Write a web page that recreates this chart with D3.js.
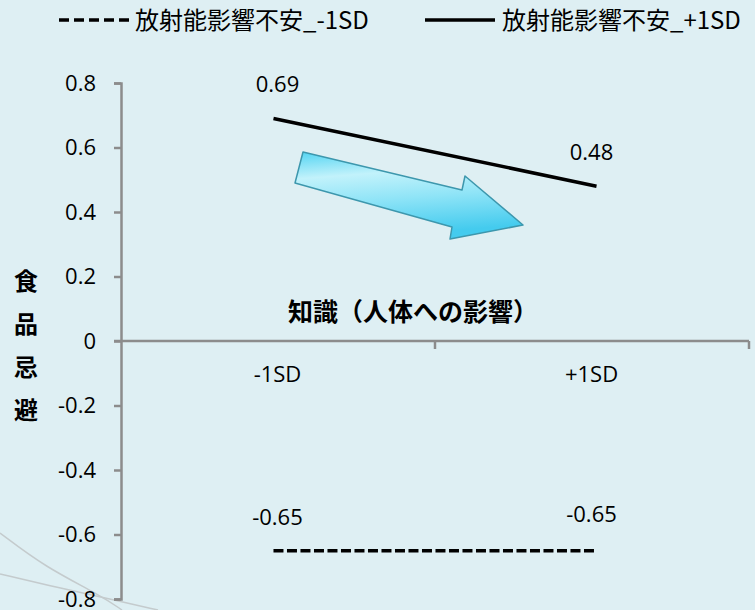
<!DOCTYPE html>
<html>
<head>
<meta charset="utf-8">
<script src="https://cdn.jsdelivr.net/npm/d3@7"></script>
<style>
  body { margin: 0; background: #deeff3; }
  svg { display: block; }
  text { font-family: "Open Sans", "Noto Sans CJK JP", sans-serif; }
  .jp { font-family: "Noto Sans CJK JP", sans-serif; }
</style>
</head>
<body>
<script>
// data
const categories = ["-1SD", "+1SD"]
const seriesNames = ["放射能影響不安_-1SD", "放射能影響不安_+1SD"]
const lowAnxiety = [-0.65, -0.65]
const highAnxiety = [0.69, 0.48]
const yTicks = [-0.8, -0.6, -0.4, -0.2, 0, 0.2, 0.4, 0.6, 0.8]

const width = 755, height = 610
const margin = ({top: 83, right: 6, bottom: 11, left: 121})

const y = d3.scaleLinear()
    .domain([-0.8, 0.8])
    .range([height - margin.bottom, margin.top])

// points sit a little off the band centres, as in the original
const x = d3.scalePoint()
    .domain(categories)
    .range([margin.left, width - margin.right])
    .padding(0.472)

const xSplit = (x(categories[0]) + x(categories[1])) / 2
const fmt = (f, d) => d3.format(f)(d).replace("\u2212", "-")

const svg = d3.select("body").append("svg")
    .attr("width", width)
    .attr("height", height)

// background decoration lines, bottom left
svg.append("g")
    .attr("fill", "none")
    .attr("stroke", "#c4cbcd")
    .attr("stroke-width", 1.5)
    .selectAll("path")
    .data([
      [[0, 533], [45, 567], [100, 595], [122, 610]],
      [[0, 574], [60, 588], [110, 599], [158, 610]]
    ])
    .join("path")
    .attr("d", d3.line().curve(d3.curveBasis))

// y axis
const yAxis = g => g
    .attr("transform", `translate(${margin.left},0)`)
    .call(d3.axisLeft(y).tickValues(yTicks).tickSize(7).tickPadding(18)
      .tickFormat(d => d === 0 ? "0" : fmt(".1f", d)))
    .call(g => g.attr("font-family", null))
    .call(g => g.selectAll("path,line").attr("stroke", "#8c8c8c").attr("stroke-width", 2.5))
    .call(g => g.selectAll("text").attr("font-size", 22).attr("fill", "#000"))

svg.append("g").call(yAxis)

// x axis drawn along y = 0
const xg = svg.append("g")
    .attr("stroke", "#8c8c8c")
    .attr("stroke-width", 2.5)
xg.append("line")
    .attr("x1", margin.left - 7).attr("x2", width - margin.right)
    .attr("y1", y(0)).attr("y2", y(0))
xg.selectAll(".tick")
    .data([xSplit, width - margin.right])
    .join("line")
    .attr("x1", d => d).attr("x2", d => d)
    .attr("y1", y(0)).attr("y2", y(0) + 8)

svg.append("g")
    .attr("font-size", 22)
    .attr("text-anchor", "middle")
    .selectAll("text")
    .data(categories)
    .join("text")
    .attr("x", (d, i) => x(d) + (i === 0 ? 4 : -5))
    .attr("y", y(0) + 41)
    .text(d => d)

// axis titles
svg.append("text")
    .attr("class", "jp")
    .attr("x", 413).attr("y", 321)
    .attr("text-anchor", "middle")
    .attr("font-size", 25)
    .attr("font-weight", "bold")
    .text("知識（人体への影響）")

svg.append("g")
    .attr("font-size", 24)
    .attr("font-weight", "bold")
    .attr("text-anchor", "middle")
    .selectAll("text")
    .data("食品忌避".split(""))
    .join("text")
    .attr("class", "jp")
    .attr("x", 26)
    .attr("y", (d, i) => 290 + i * 43)
    .text(d => d)

// arrow
const defs = svg.append("defs")
const grad = defs.append("linearGradient")
    .attr("id", "arrowFill")
    .attr("x1", "0").attr("y1", "0").attr("x2", "0.2").attr("y2", "1")
grad.append("stop").attr("offset", "0%").attr("stop-color", "#52d4f2")
grad.append("stop").attr("offset", "30%").attr("stop-color", "#c2f2fb")
grad.append("stop").attr("offset", "60%").attr("stop-color", "#8fe4f7")
grad.append("stop").attr("offset", "100%").attr("stop-color", "#44cbee")

svg.append("path")
    .attr("d", "M303,152 L462,190 L465,176 L523,225 L450,239 L452,227 L295,183 Z")
    .attr("fill", "url(#arrowFill)")
    .attr("stroke", "#3d97ad")
    .attr("stroke-width", 1.5)
    .attr("stroke-linejoin", "round")

// lines
const line = d3.line()
    .x((d, i) => x(categories[i]))
    .y(d => y(d))

svg.append("path")
    .datum(lowAnxiety)
    .attr("fill", "none")
    .attr("stroke", "#000")
    .attr("stroke-width", 3.5)
    .attr("stroke-dasharray", "10,3.5")
    .attr("d", line)

svg.append("path")
    .datum(highAnxiety)
    .attr("fill", "none")
    .attr("stroke", "#000")
    .attr("stroke-width", 3.5)
    .attr("d", line)

// data labels
const labels = svg.append("g")
    .attr("font-size", 22)
    .attr("text-anchor", "middle")
labels.selectAll(".hi")
    .data(highAnxiety)
    .join("text")
    .attr("x", (d, i) => x(categories[i]) + (i === 0 ? 4 : -5))
    .attr("y", (d, i) => y(d) - 26)
    .text(d => fmt(".2f", d))
labels.selectAll(".lo")
    .data(lowAnxiety)
    .join("text")
    .attr("x", (d, i) => x(categories[i]) + (i === 0 ? 4 : -5))
    .attr("y", (d, i) => y(d) + (i === 0 ? -26 : -29))
    .text(d => fmt(".2f", d))

// legend
const legend = svg.append("g")
    .selectAll("g")
    .data(seriesNames)
    .join("g")
    .attr("transform", (d, i) => `translate(${i === 0 ? 59 : 425},0)`)
legend.append("line")
    .attr("x1", 0).attr("x2", 70)
    .attr("y1", 20).attr("y2", 20)
    .attr("stroke", "#000")
    .attr("stroke-width", 3.5)
    .attr("stroke-dasharray", (d, i) => i === 0 ? "10,5" : null)
legend.append("text")
    .attr("class", "jp")
    .attr("x", (d, i) => i === 0 ? 76 : 77)
    .attr("y", 29)
    .attr("font-size", 24)
    .text(d => d)
</script>
</body>
</html>
